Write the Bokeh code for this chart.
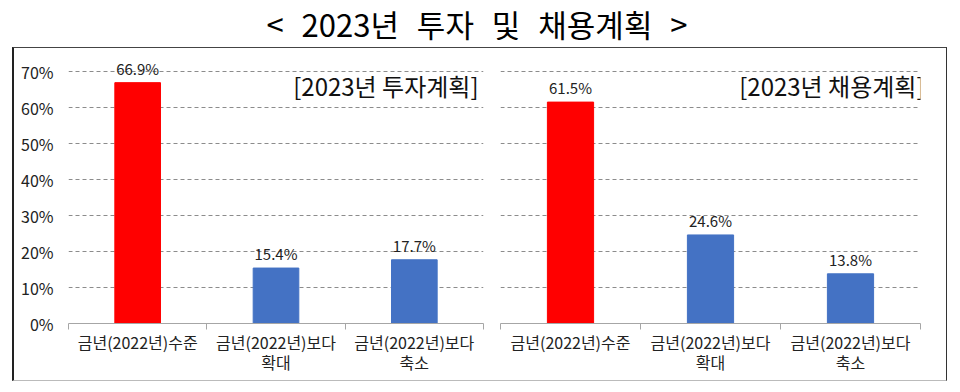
import html
import numpy as np
from bokeh.plotting import figure
from bokeh.models import (Range1d, FixedTicker, PrintfTickFormatter, ColumnDataSource, Label, Div, Spacer)
from bokeh.layouts import column, row
from bokeh.embed import file_html
from bokeh.resources import INLINE
from bokeh.core.properties import value

# ---------------- data ----------------
title_text = "< 2023년 투자 및 채용계획 >"
categories = ["금년(2022년)수준", "금년(2022년)보다\n확대", "금년(2022년)보다\n축소"]
invest_values = [66.9, 15.4, 17.7]
hire_values = [61.5, 24.6, 13.8]
panel_titles = ["[2023년 투자계획]", "[2023년 채용계획]"]
y_ticks = [0, 10, 20, 30, 40, 50, 60, 70]
bar_colors = ["#FF0000", "#4472C4", "#4472C4"]

FONT = "Noto Sans CJK KR"


def make_panel(vals, sub, width, left, right, show_y, sub_offset):
    n = len(categories)
    xs = np.arange(n) + 0.5
    src = ColumnDataSource(dict(x=xs, top=vals, color=bar_colors,
                                label=[f"{v:.1f}%" for v in vals]))
    p = figure(width=width, height=332, x_range=Range1d(0, n), y_range=Range1d(0, 75),
               output_backend="svg", toolbar_location=None,
               min_border_left=left, min_border_right=right,
               min_border_top=5, min_border_bottom=57)
    p.outline_line_color = None
    p.background_fill_color = None
    p.border_fill_color = None
    p.vbar(x="x", top="top", width=0.33, color="color", source=src)
    p.text(x="x", y="top", text="label", source=src, text_align="center",
           text_baseline="bottom", y_offset=-4, text_font=value(FONT),
           text_font_size="15px", text_color="#222222")

    # x axis
    xa = p.xaxis[0]
    xa.ticker = FixedTicker(ticks=list(xs), minor_ticks=list(range(n + 1)))
    xa.major_label_overrides = {float(x): c for x, c in zip(xs, categories)}
    xa.major_tick_out = 0
    xa.major_tick_in = 0
    xa.minor_tick_out = 6
    xa.minor_tick_in = 0
    xa.minor_tick_line_color = "#a6a6a6"
    xa.axis_line_color = "#a6a6a6"
    xa.major_label_standoff = 0
    xa.major_label_text_font = FONT
    xa.major_label_text_font_size = "16px"
    xa.major_label_text_color = "#222222"
    xa.major_label_text_line_height = 0.86

    # y axis
    ya = p.yaxis[0]
    ya.ticker = FixedTicker(ticks=y_ticks)
    ya.formatter = PrintfTickFormatter(format="%d%%")
    ya.axis_line_color = None
    ya.major_tick_line_color = None
    ya.minor_tick_line_color = None
    ya.major_label_standoff = 9
    ya.major_label_text_font = FONT
    ya.major_label_text_font_size = "16px"
    ya.major_label_text_color = "#222222"
    ya.visible = show_y

    p.xgrid.visible = False
    p.ygrid.ticker = FixedTicker(ticks=y_ticks[1:])
    p.ygrid.grid_line_color = "#8c8c8c"
    p.ygrid.grid_line_dash = "4 3"
    p.ygrid.grid_line_width = 1

    p.add_layout(Label(x=n, y=66, x_offset=sub_offset, text=sub, text_align="right",
                       text_baseline="middle", text_font=FONT, text_font_size="24px",
                       text_color="#111111"))
    return p


p1 = make_panel(invest_values, panel_titles[0], 477, 54, 8, True, -5)
p2 = make_panel(hire_values, panel_titles[1], 455, 9, 26, False, 4)

title = Div(text=('<div style="width:944px;text-align:center;font-size:31px;line-height:34px;'
                  'padding-top:2px;word-spacing:11px;font-family:\'Noto Sans CJK KR\';color:#000;">'
                  + html.escape(title_text) + '</div>'),
            width=944, height=37)

box = row(p1, p2, styles={"border-top": "1px solid #444", "border-right": "1px solid #333",
                          "border-left": "2px solid #222", "border-bottom": "1px solid #bbb"})

layout = column(title, row(Spacer(width=12, height=10), box))

open("out.html", "w").write(file_html(layout, INLINE))
